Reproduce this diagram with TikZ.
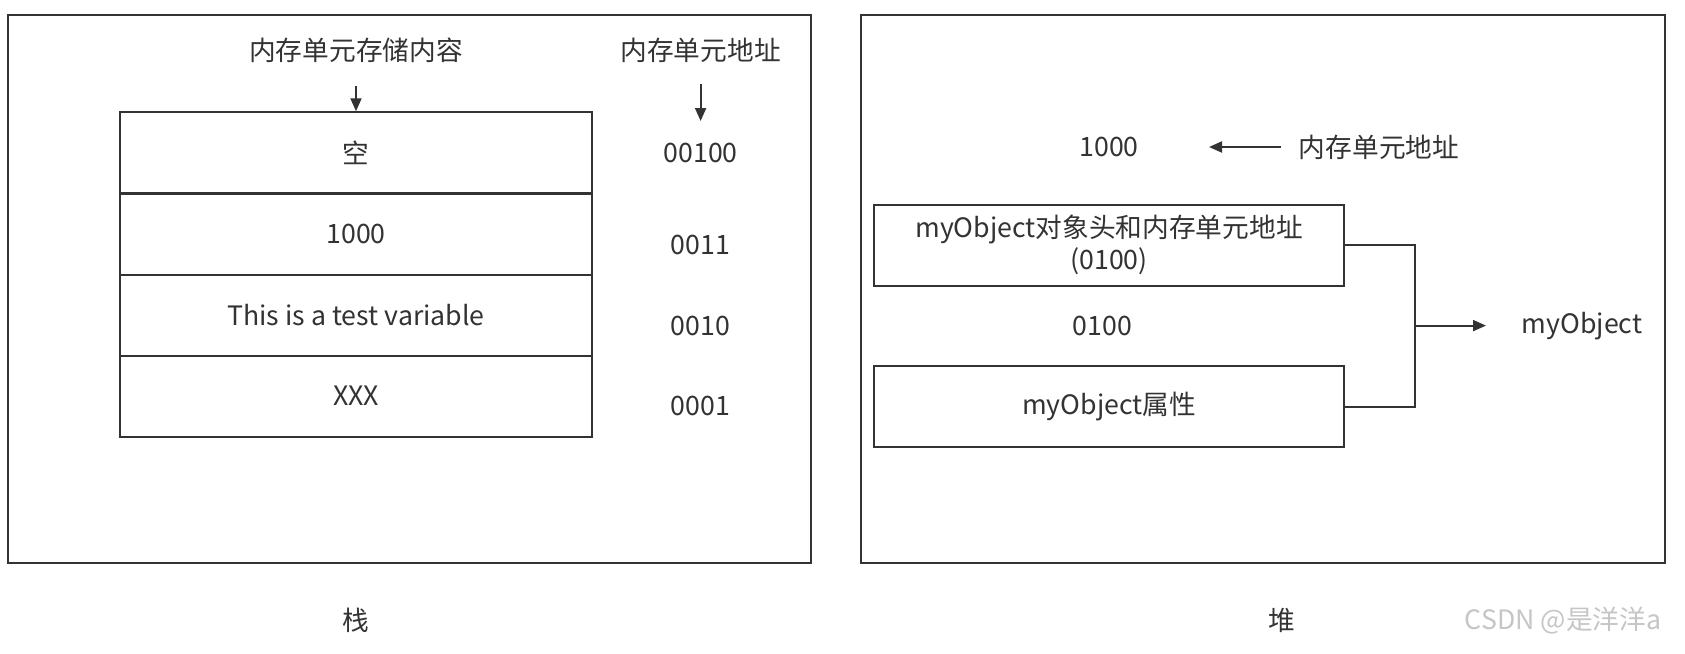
\documentclass[tikz,border=0pt]{standalone}
\usepackage{fontspec}
\setmainfont{Noto Sans CJK SC}
\usetikzlibrary{arrows.meta}
\definecolor{ink}{HTML}{333333}
\tikzset{
  frame/.style={draw=ink, line width=2pt},
  cell/.style={draw=ink, line width=2pt, minimum width=472pt, minimum height=81pt, inner sep=0pt, text=ink},
  hbox/.style={draw=ink, line width=2pt, minimum width=470pt, minimum height=81pt, inner sep=0pt, text=ink, align=center},
  lbl/.style={text=ink, inner sep=0pt},
  arr/.style={draw=ink, line width=2pt, -{Triangle[length=13pt,width=11pt]}},
  wire/.style={draw=ink, line width=2pt},
}
\begin{document}
\begin{tikzpicture}[x=1pt,y=-1pt,font=\fontsize{26.7}{32}\selectfont]
\useasboundingbox (0,0) rectangle (1685,653);
\fill[white] (0,0) rectangle (1685,653);
% frames
\draw[frame] (8,15) rectangle (811,563);
\draw[frame] (861,15) rectangle (1665,563);
% stack cells
\node[cell] (c1) at (356,152.75) {空};
\node[cell] (c2) at (356,234.25) {1000};
\node[cell] (c3) at (356,315.5) {This is a test variable};
\node[cell] (c4) at (356,396) {XXX};
% labels
\node[lbl] (l1) at (356,50.5) {内存单元存储内容};
\node[lbl] (l2) at (700.6,50.5) {内存单元地址};
\coordinate (a1s) at (356,86);
\draw[arr] (a1s) -- (c1.north);
\coordinate (a2s) at (700.6,84);
\coordinate (a2e) at (700.6,121);
\draw[arr] (a2s) -- (a2e);
\node[lbl] (ad1) at (700.6,152.6) {00100};
\node[lbl] (ad2) at (700.6,245) {0011};
\node[lbl] (ad3) at (700.6,325.6) {0010};
\node[lbl] (ad4) at (700.6,406) {0001};
\node[lbl] (stk) at (356,620) {栈};
% heap
\node[lbl] (h1000) at (1109,147) {1000};
\node[lbl] (hlab) at (1379,147) {内存单元地址};
\coordinate (ha1) at (1281,147);
\coordinate (ha2) at (1209,147);
\draw[arr] (ha1) -- (ha2);
\node[hbox] (b1) at (1109,245) {myObject对象头和内存单元地址\\(0100)};
\node[lbl] (h0100) at (1102.5,325.6) {0100};
\node[hbox] (b2) at (1109,406.7) {myObject属性};
\coordinate (j1) at (1415,245);
\coordinate (j2) at (1415,406.7);
\coordinate (j3) at (1415,325.6);
\coordinate (je) at (1486,325.6);
\draw[wire] (b1.east) -- (j1) -- (j2) -- (b2.east);
\draw[arr] (j3) -- (je);
\node[lbl] (mo) at (1582,325.6) {myObject};
\node[lbl] (heap) at (1282,620) {堆};
\node[inner sep=0pt, text=gray!45] (wm) at (1563,621) {CSDN @是洋洋a};
\end{tikzpicture}
\end{document}
